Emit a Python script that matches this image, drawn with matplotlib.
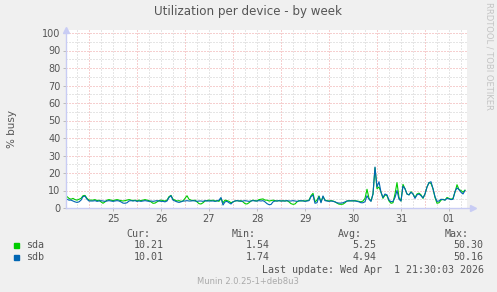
import numpy as np
import matplotlib
matplotlib.use("Agg")
import matplotlib.pyplot as plt

# hours relative to Mar 25 00:00, one reading per hour
hours = np.arange(-11, 189)

sda = [
    6.5, 5.5, 5.0, 5.5, 4.8, 4.5, 5.0, 5.5, 7.0, 7.2, 5.5, 4.5,
    4.5, 4.5, 4.8, 4.2, 4.5, 3.5, 2.7, 3.5, 4.5, 4.8, 4.5, 4.2,
    4.5, 4.8, 4.5, 4.2, 4.0, 4.2, 4.5, 4.8, 4.5, 4.2, 4.5, 4.0,
    4.5, 4.2, 4.5, 4.8, 4.5, 4.2, 3.5, 2.7, 2.8, 3.5, 4.2, 4.5,
    4.2, 4.0, 4.5, 6.5, 7.2, 5.0, 4.5, 4.0, 4.2, 3.8, 4.0, 5.5,
    7.0, 5.0, 4.5, 4.2, 4.5, 3.5, 2.5, 2.3, 3.0, 4.0, 4.2, 4.5,
    4.2, 4.5, 4.0, 4.2, 3.8, 5.5, 3.0, 4.5, 4.2, 3.8, 3.0, 3.5,
    4.0, 4.2, 4.0, 4.2, 3.5, 2.5, 2.3, 3.0, 4.0, 4.5, 4.2, 4.0,
    4.8, 5.0, 5.2, 4.5, 4.5, 4.0, 4.2, 4.5, 4.2, 4.0, 4.2, 4.0,
    4.2, 4.0, 4.2, 3.5, 2.5, 2.1, 2.3, 3.5, 4.2, 4.0, 4.2, 4.0,
    4.2, 4.5, 7.0, 8.4, 3.5, 4.5, 6.9, 3.5, 6.5, 4.5, 4.2, 4.0,
    4.2, 4.0, 3.5, 2.8, 2.2, 2.1, 2.2, 3.0, 4.0, 4.2, 4.0, 4.2,
    4.2, 4.0, 3.8, 3.5, 4.0, 5.5, 10.7, 5.5, 4.0, 8.0, 23.0, 11.0,
    12.0, 9.0, 5.5, 7.5, 7.0, 4.0, 2.7, 3.0, 8.0, 14.5, 6.0, 4.0,
    13.5, 11.0, 8.0, 7.5, 9.3, 8.0, 6.0, 8.0, 8.5, 7.5, 5.5, 8.0,
    12.0, 14.5, 14.0, 11.0, 6.0, 2.7, 3.0, 4.5, 5.0, 4.5, 6.0, 5.5,
    5.0, 5.5, 9.0, 13.3, 10.5, 10.0, 9.0, 10.2,
]

sdb = [
    5.0, 4.5, 4.5, 4.0, 3.5, 3.2, 3.5, 4.5, 6.5, 6.8, 5.0, 4.0,
    4.0, 4.0, 4.2, 3.8, 4.0, 4.2, 4.0, 3.8, 4.0, 4.2, 4.0, 3.8,
    4.0, 4.2, 4.0, 3.5, 2.8, 2.7, 3.0, 4.0, 4.2, 4.0, 4.2, 3.8,
    4.0, 3.8, 4.0, 4.2, 4.0, 3.8, 4.0, 3.8, 4.0, 4.2, 4.0, 3.8,
    3.8, 3.5, 4.0, 6.0, 7.0, 4.5, 4.0, 3.5, 3.2, 3.5, 4.0, 4.0,
    4.2, 4.0, 4.0, 4.2, 4.0, 3.8, 4.0, 4.0, 3.8, 4.2, 4.0, 4.0,
    4.0, 4.0, 3.8, 4.0, 4.5, 6.0, 1.7, 3.5, 3.8, 3.0, 2.3, 3.5,
    4.0, 4.2, 4.0, 3.8, 4.0, 4.2, 4.0, 3.8, 4.0, 4.2, 4.0, 4.0,
    4.2, 4.0, 4.2, 3.5, 2.5, 1.9, 2.0, 3.5, 4.0, 4.0, 4.2, 4.0,
    4.0, 4.0, 4.2, 4.0, 4.0, 4.2, 4.0, 3.8, 4.0, 4.2, 4.0, 3.8,
    4.0, 4.2, 6.5, 7.4, 2.7, 3.0, 6.5, 3.0, 6.9, 4.2, 4.0, 3.8,
    4.0, 3.8, 3.5, 3.0, 2.8, 2.8, 3.0, 3.5, 4.0, 4.0, 4.2, 4.0,
    4.0, 3.8, 3.5, 3.0, 3.0, 3.6, 7.0, 5.0, 3.8, 8.0, 23.4, 12.0,
    15.0, 9.0, 6.0, 8.0, 7.5, 4.5, 3.6, 3.8, 6.0, 10.0, 5.0, 4.0,
    12.5, 11.0, 8.0, 7.5, 9.0, 8.0, 5.5, 7.5, 8.0, 7.0, 5.8, 8.0,
    12.0, 14.5, 15.0, 11.0, 6.5, 3.8, 4.0, 5.0, 4.8, 4.5, 5.5, 5.2,
    4.8, 5.0, 9.5, 11.5, 10.5, 9.0, 8.0, 10.0,
]

day_labels = ["25", "26", "27", "28", "29", "30", "31", "01"]
names = ["sda", "sdb"]
colors = ["#00cc00", "#0066b3"]
cur = ["10.21", "10.01"]
vmin = ["1.54", "1.74"]
avg = ["5.25", "4.94"]
vmax = ["50.30", "50.16"]

W, H = 497, 292
fig = plt.figure(figsize=(W / 100, H / 100), dpi=100, facecolor="#f0f0f0")
ax = fig.add_axes([66 / W, 1 - 208 / H, 401 / W, 178 / H], facecolor="white")

ax.set_xlim(-11.5, 189)
ax.set_ylim(0, 100 * 178 / 175)

red = "#eea0a0"
grey = "#cccccc"
dash = (0, (1, 2))
for y in range(5, 100, 10):
    ax.axhline(y, color=grey, lw=0.72, ls=dash, zorder=0)
for y in range(10, 101, 10):
    ax.axhline(y, color=red, lw=0.72, ls=dash, zorder=0)
for h in range(-6, 189, 6):
    if h % 24:
        ax.axvline(h, color=grey, lw=0.72, ls=dash, zorder=0)
for h in range(0, 189, 24):
    ax.axvline(h, color=red, lw=0.72, ls=dash, zorder=0)

for vals, c in zip([sda, sdb], colors):
    ax.plot(hours, vals, color=c, lw=0.8, zorder=3)

for s in ax.spines.values():
    s.set_visible(False)

ax.set_yticks(range(0, 101, 10))
ax.set_xticks(range(12, 189, 24))
ax.set_xticklabels(day_labels)
ax.tick_params(axis="both", length=2, width=0.7, color="#bbbbbb",
               labelsize=7, labelcolor="#555555", pad=2)

# axis lines with arrows
axc = "#c8ccf4"
ax.plot([0, 0], [0, 1.0], transform=ax.transAxes, color=axc, lw=1, clip_on=False, zorder=4)
ax.plot([0, 1.015], [0, 0], transform=ax.transAxes, color=axc, lw=1, clip_on=False, zorder=4)
ax.plot([0], [1.0], transform=ax.transAxes, marker="^", ms=4, color=axc, clip_on=False)
ax.plot([1.015], [0], transform=ax.transAxes, marker=">", ms=4, color=axc, clip_on=False)

fig.text(248.5 / W, 1 - 12 / H, "Utilization per device - by week", ha="center",
         va="center", fontsize=8.6, color="#555555")
fig.text(12 / W, 1 - 129 / H, "% busy", rotation=90, ha="center", va="center",
         fontsize=7.5, color="#555555")
fig.text(489 / W, 1 - 56 / H, "RRDTOOL / TOBI OETIKER", rotation=270, ha="center",
         va="center", fontsize=6, color="#c4c4c4")

mono = dict(family="DejaVu Sans Mono", fontsize=7.2, color="#555555", va="center")
for x, t in zip([150, 256, 362, 469], ["Cur:", "Min:", "Avg:", "Max:"]):
    fig.text(x / W, 1 - 234 / H, t, ha="right", **mono)
for i, (n, c) in enumerate(zip(names, colors)):
    yrow = 245.3 + i * 11.7
    fig.patches.append(plt.Rectangle((14 / W, 1 - (yrow + 2.5) / H), 5 / W, 5 / H,
                                     transform=fig.transFigure, color=c))
    fig.text(26.5 / W, 1 - yrow / H, n, ha="left", **mono)
    for x, t in zip([163.5, 270, 376.5, 483.5], [cur[i], vmin[i], avg[i], vmax[i]]):
        fig.text(x / W, 1 - yrow / H, t, ha="right", **mono)
fig.text(483.5 / W, 1 - 269.7 / H, "Last update: Wed Apr  1 21:30:03 2026", ha="right", **mono)
fig.text(248 / W, 1 - 281.3 / H, "Munin 2.0.25-1+deb8u3", ha="center", va="center",
         fontsize=6, color="#aaaaaa")

fig.savefig("out.png", dpi=100, facecolor=fig.get_facecolor())
